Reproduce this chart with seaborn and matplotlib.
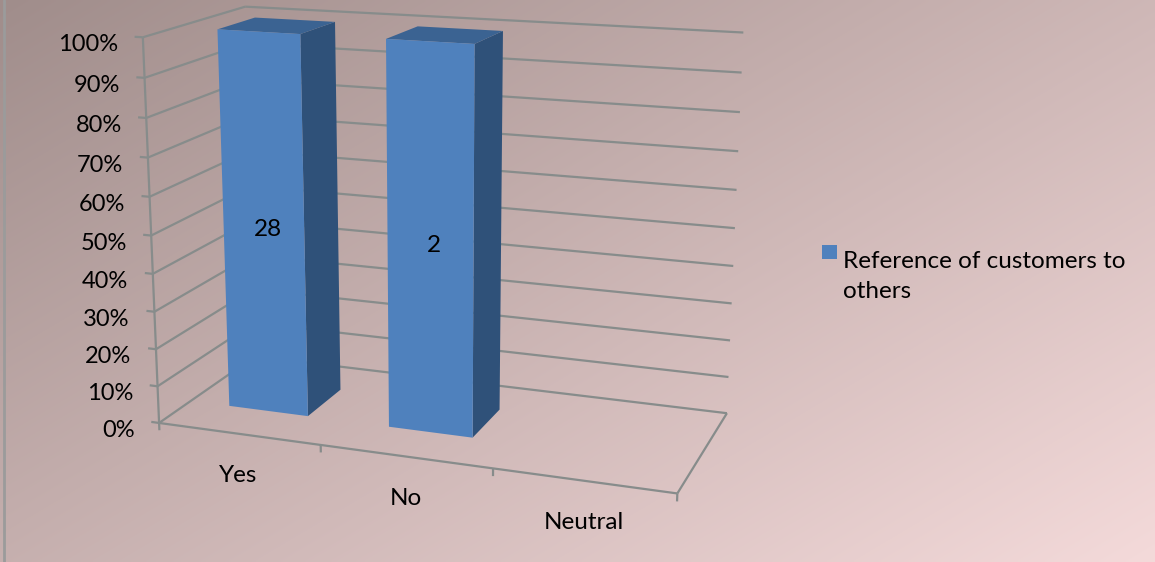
import numpy as np
import pandas as pd
import matplotlib
matplotlib.use("Agg")
import matplotlib.pyplot as plt
import matplotlib.transforms as mtransforms
from matplotlib.patches import Polygon, Rectangle
from matplotlib.lines import Line2D
import seaborn as sns

# ---- data -------------------------------------------------------------
categories = ["Yes", "No", "Neutral"]
responses = [28, 2, 0]
series_name = "Reference of customers to others"
percent_ticks = [0, 10, 20, 30, 40, 50, 60, 70, 80, 90, 100]

df = pd.DataFrame({"category": categories, "count": responses})
# 100% stacked column: each bar shows its share of the category total
totals = df.groupby("category")["count"].transform("sum")
df["share"] = np.where(totals > 0, df["count"] / totals.where(totals > 0, 1), 0.0)

# ---- style ------------------------------------------------------------
sns.set_theme(style="white")
plt.rcParams["font.family"] = ["Lato", "DejaVu Sans"]
plt.rcParams["text.color"] = "black"

FRONT = "#4F81BD"
SIDE = "#2F5179"
TOP = "#3B6392"
GRID = "#878c8b"
FS_TICK = 17
FS = 17.5

W_PX, H_PX, DPI = 1155, 562, 100
fig = plt.figure(figsize=(W_PX / DPI, H_PX / DPI), dpi=DPI)

# diagonal background gradient of the chart area
bg = fig.add_axes([0, 0, 1, 1], zorder=-5)
gx, gy = np.meshgrid(np.linspace(0, 1, 400), np.linspace(0, 1, 200))
t = np.clip(0.55 * gx + 0.45 * gy, 0, 1)
c0 = np.array([160, 141, 139]) / 255
c1 = np.array([244, 218, 218]) / 255
bg.imshow(c0 + t[..., None] * (c1 - c0), aspect="auto", extent=[0, 1, 0, 1],
          origin="upper", interpolation="bilinear")
bg.set_axis_off()

# ---- perspective camera (category, value, depth) -> figure pixels ------
CAMERA = np.array([
    [153.969, -24.4624, 125.151, 238.606],
    [8.18886, -393.892, -28.6717, 433.777],
    [-0.0317786, -0.0556552, 0.109386, 1.0],
])


class PlaneProjection(mtransforms.Transform):
    """Projects 2-D coordinates lying on one plane of the 3-D box."""
    input_dims = output_dims = 2
    is_separable = False
    has_inverse = False

    def __init__(self, plane, level):
        super().__init__()
        self.plane = plane
        self.level = level

    def transform_non_affine(self, values):
        a = np.asarray(values, dtype=float).reshape(-1, 2)
        c = np.full(len(a), self.level)
        if self.plane == "xy":
            X, Y, Z = a[:, 0], a[:, 1], c
        elif self.plane == "zy":
            X, Y, Z = c, a[:, 1], a[:, 0]
        else:  # "xz"
            X, Y, Z = a[:, 0], c, a[:, 1]
        h = CAMERA @ np.vstack([X, Y, Z, np.ones(len(a))])
        u, v = h[0] / h[2], h[1] / h[2]
        return np.column_stack([u / W_PX, 1 - v / H_PX])


def plane(kind, level):
    return PlaneProjection(kind, level) + fig.transFigure


ax = fig.add_axes([0, 0, 1, 1])
sns.barplot(data=df, x="category", y="share", order=categories, color=FRONT,
            saturation=1, width=0.5, errorbar=None, ax=ax)
ax.set_ylim(0, 1)
ax.set_axis_off()
ax.patch.set_visible(False)
x_lo, x_hi = ax.get_xlim()

Z_FRONT, Z_BACK = 0.31, 0.69   # bar depth inside the floor (0 front, 1 back)
front0 = plane("xy", 0.0)
back = plane("xy", 1.0)
left = plane("zy", x_lo)
line_kw = dict(color=GRID, lw=1.6, solid_capstyle="butt", clip_on=False)

# walls: gridlines on back wall and on left side wall
for p in percent_ticks:
    v = p / 100
    ax.add_line(Line2D([x_lo, x_hi], [v, v], transform=back, zorder=1, **line_kw))
    ax.add_line(Line2D([0, 1], [v, v], transform=left, zorder=1, **line_kw))
    # value-axis tick and label
    ax.add_line(Line2D([x_lo - 0.05, x_lo], [v, v], transform=front0, zorder=1, **line_kw))
    ax.text(x_lo, v, f"{p}%", fontsize=FS_TICK, ha="right", va="center",
            transform=front0 + mtransforms.ScaledTranslation(-0.245, -0.075, fig.dpi_scale_trans))

# value axis and floor outline
ax.add_line(Line2D([x_lo, x_lo], [-0.02, 1], transform=front0, zorder=1, **line_kw))
ax.add_line(Line2D([x_lo, x_hi], [0, 0], transform=front0, zorder=1, **line_kw))
ax.add_line(Line2D([0, 1], [0, 0], transform=plane("zy", x_hi), zorder=1, **line_kw))
for k in range(1, len(categories) + 1):
    xb = x_lo + k
    ax.add_line(Line2D([xb, xb], [0, -0.02], transform=front0, zorder=1, **line_kw))

# category labels
for i, cat in enumerate(categories):
    ax.text(i, 0, cat, fontsize=FS, ha="center", va="center",
            transform=front0 + mtransforms.ScaledTranslation(0, -0.42, fig.dpi_scale_trans))

# bars: seaborn front faces placed in depth, plus side and top faces
front_bar = plane("xy", Z_FRONT)
for patch, count in zip(ax.patches, df["count"]):
    x0, w, h = patch.get_x(), patch.get_width(), patch.get_height()
    patch.set_transform(front_bar)
    patch.set_clip_on(False)
    patch.set_edgecolor("none")
    patch.set_zorder(4)
    if h <= 0:
        continue
    side = Polygon([(Z_FRONT, 0), (Z_BACK, 0), (Z_BACK, h), (Z_FRONT, h)],
                   closed=True, facecolor=SIDE, edgecolor="none",
                   transform=plane("zy", x0 + w), zorder=3, clip_on=False)
    top = Polygon([(x0, Z_FRONT), (x0 + w, Z_FRONT), (x0 + w, Z_BACK), (x0, Z_BACK)],
                  closed=True, facecolor=TOP, edgecolor="none",
                  transform=plane("xz", h), zorder=3, clip_on=False)
    ax.add_patch(side)
    ax.add_patch(top)
    ax.text(x0 + w / 2, h / 2, f"{count}", fontsize=FS, ha="center", va="center",
            transform=front_bar + mtransforms.ScaledTranslation(0.04, -0.03, fig.dpi_scale_trans),
            zorder=5)

# legend
fig.add_artist(Rectangle((822 / W_PX, 1 - 259 / H_PX), 15 / W_PX, 14 / H_PX,
                         transform=fig.transFigure, facecolor=FRONT, edgecolor="none"))
fig.text(843 / W_PX, 1 - 298 / H_PX, "Reference of customers to\nothers",
         fontsize=FS, ha="left", va="baseline", linespacing=1.5)

# chart frame edge on the left
fig.add_artist(Line2D([4 / W_PX, 4 / W_PX], [0, 1], transform=fig.transFigure,
                      color="#9b9b9b", lw=2))

fig.savefig("out.png", dpi=DPI)
